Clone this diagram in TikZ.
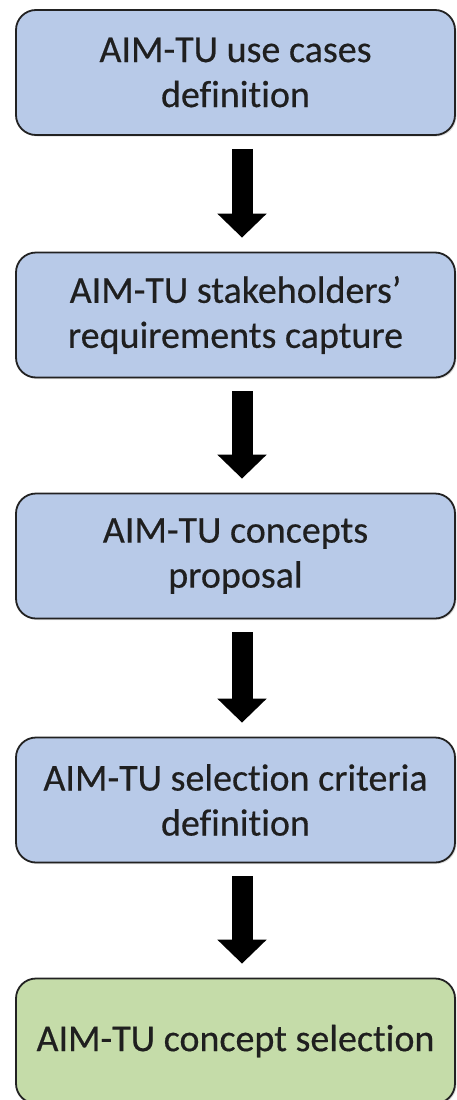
\documentclass[tikz,border=0pt]{standalone}
\usepackage{fontspec}
\setmainfont{Carlito}[Ligatures=NoCommon, FakeBold=0.4]
\usetikzlibrary{arrows.meta,shadows}
\definecolor{boxblue}{HTML}{B8CAE8}
\definecolor{boxgreen}{HTML}{C5DCA9}
\definecolor{boxline}{HTML}{222222}
\tikzset{
  stagebox/.style={draw=boxline, line width=1.8pt, rounded corners=20pt,
    minimum width=439pt, minimum height=125pt, align=center,
    inner sep=0pt, font=\fontsize{38}{45}\selectfont, text=black!88,
    drop shadow={opacity=0.25, shadow xshift=1.5pt, shadow yshift=-1.5pt}},
  bluebox/.style={stagebox, fill=boxblue},
  greenbox/.style={stagebox, fill=boxgreen},
  bigarrow/.style={line width=21pt, draw=black,
    -{Triangle[width=48pt,length=24pt]}, shorten <=13pt, shorten >=14pt}
}
\begin{document}
\begin{tikzpicture}[x=1pt,y=-1pt]
\useasboundingbox (0,0) rectangle (457,1100);
\clip (0,0) rectangle (457,1100);
\node[bluebox] (b1) at (235.5,72.5) {AIM-TU use cases\\definition};
\node[bluebox] (b2) at (235.5,315) {AIM-TU stakeholders’\\requirements capture};
\node[bluebox] (b3) at (235.5,556) {AIM-TU concepts\\proposal};
\node[bluebox] (b4) at (235.5,800) {AIM-TU selection criteria\\definition};
\node[greenbox] (b5) at (235.5,1041) {AIM-TU concept selection};
\draw[bigarrow] ([xshift=6.5pt]b1.south) -- ([xshift=6.5pt]b2.north);
\draw[bigarrow] ([xshift=6.5pt]b2.south) -- ([xshift=6.5pt]b3.north);
\draw[bigarrow] ([xshift=6.5pt]b3.south) -- ([xshift=6.5pt]b4.north);
\draw[bigarrow] ([xshift=6.5pt]b4.south) -- ([xshift=6.5pt]b5.north);
\end{tikzpicture}
\end{document}
